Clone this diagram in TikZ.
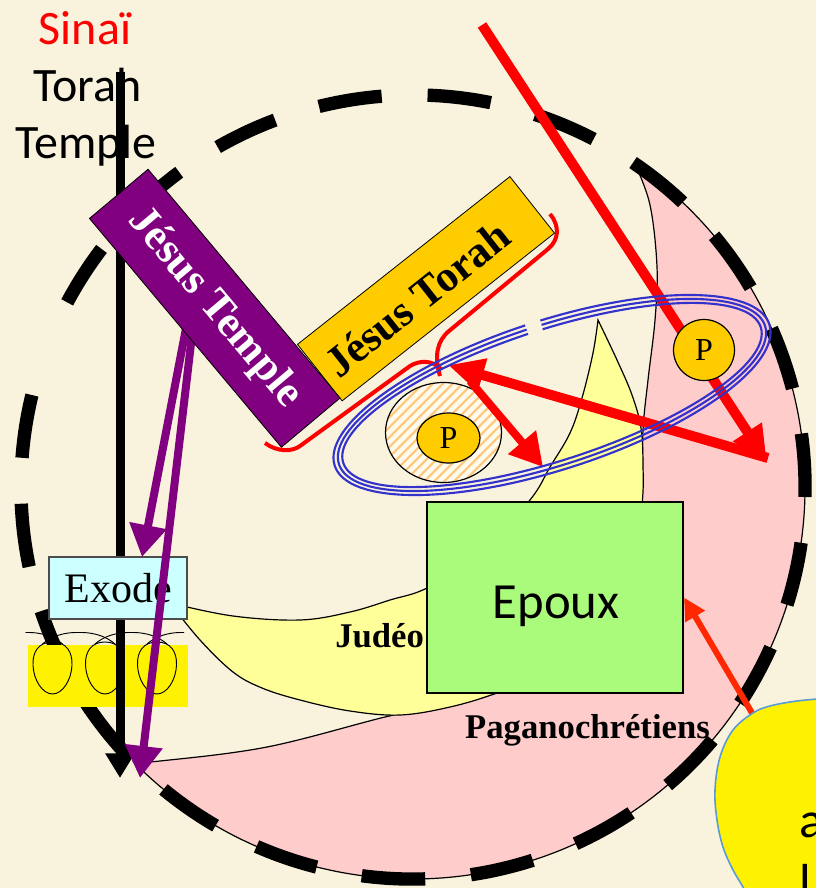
\documentclass[tikz,border=0pt]{standalone}
\usepackage{fontspec}
\setmainfont{Liberation Serif}
\newfontfamily\carl{Carlito}
\usetikzlibrary{arrows.meta,shapes.geometric,calc}
\definecolor{bgc}{RGB}{249,243,222}
\definecolor{pinkc}{RGB}{255,204,204}
\definecolor{yellc}{RGB}{255,255,153}
\definecolor{greenc}{RGB}{170,250,123}
\definecolor{goldc}{RGB}{255,204,0}
\definecolor{purplec}{RGB}{128,0,128}
\definecolor{cyanc}{RGB}{204,255,255}
\definecolor{bluec}{RGB}{51,51,204}
\definecolor{stripec}{RGB}{255,200,120}
\definecolor{hatchbg}{RGB}{255,250,238}
\definecolor{orangered}{RGB}{255,40,0}
\definecolor{calloutb}{RGB}{91,155,213}
\tikzset{
  thinblack/.style={draw=black, line width=0.9pt},
  dashcirc/.style={draw=black, line width=10pt, dash pattern=on 47.7pt off 34.45pt},
  purplearrow/.style={draw=purplec, line width=6pt, -{Triangle[length=24pt,width=27pt]}},
  blackarrow/.style={draw=black, line width=6.75pt, -{Triangle[length=18.5pt,width=21pt]}},
  redthick/.style={draw=red, line width=7.5pt, -{Triangle[length=27pt,width=24pt]}},
  redmid/.style={draw=red, line width=6pt, -{Triangle[length=24.4pt,width=26pt]}},
  redthin/.style={draw=red, line width=3pt},
  blueline/.style={draw=bluec, line width=1.6pt},
  eggstyle/.style={draw=black, line width=0.7pt},
  bigsans/.style={font=\carl\fontsize{36pt}{42pt}\selectfont, inner sep=0},
  boldlabel/.style={font=\bfseries\fontsize{26pt}{30pt}\selectfont, inner sep=0},
  pfont/.style={font=\fontsize{24pt}{28pt}\selectfont},
  jbox/.style={draw=black, line width=0.6pt, inner sep=0, font=\bfseries\fontsize{32.6pt}{36pt}\selectfont}
}
\begin{document}
\begin{tikzpicture}[x=0.75pt,y=-0.75pt]
\useasboundingbox (0,0) rectangle (816,888);
\fill[bgc] (0,0) rectangle (816,888);

% pink crescent (Paganochretiens)
\coordinate (ctr) at (413,487);
\path[fill=pinkc, thinblack] ($(ctr)+(-55.5:392)$) arc[start angle=-55.5, end angle=135.5, radius=392]
  -- plot[smooth, tension=0.6] coordinates {(133.4,761.7) (160,761) (267,747) (385,717) (450,703) (497,688) (545,672) (592,637) (628,580) (641,500) (643,430) (648,380) (655,320) (657,267) (650,205) (635,164)} -- cycle;

% yellow crescent (Judeo)
\path[fill=yellc, thinblack] plot[smooth, tension=0.6] coordinates {(598,320) (617,360) (632,395) (641,428) (643,465) (642,505) (632,575) (600,630) (555,670) (497,693) (450,707) (400,715) (350,711) (300,700) (262,688) (233,672) (200,640) (170,603)}
  -- plot[smooth, tension=0.6] coordinates {(170,603) (233,616) (300,620) (350,612) (390,600) (427,588) (480,555) (530,500) (550,467) (570,433) (582,398) (593,353) (598,320)} -- cycle;

\node[boldlabel, anchor=base west] (judeo) at (335,647) {Judéo};

% Epoux
\node[draw=black, line width=1.5pt, fill=greenc, minimum width=192pt, minimum height=143.25pt, inner sep=0] (epoux) at (555,597.5) {};
\node[font=\carl\fontsize{38pt}{44pt}\selectfont, anchor=base, inner sep=0] (epouxtxt) at (556,618) {Epoux};
\node[boldlabel, anchor=base] (pagano) at (587.5,738) {Paganochrétiens};

% dashed circle
\draw[dashcirc] ($(ctr)+(208.1:392)$) arc[start angle=208.1, end angle=559.0, radius=392];
\draw[draw=black, line width=10pt] ($(ctr)+(145.3:392)$) arc[start angle=145.3, end angle=152.5, radius=392];

% yellow rectangle with loops
\fill[yellow] (28,645) rectangle (188,707);
\foreach \x in {52.5,105,157}{
  \draw[eggstyle] (\x,642) .. controls (\x+14,642) and (\x+20,652) .. (\x+19.5,665) .. controls (\x+19,680) and (\x+10,694) .. (\x,694) .. controls (\x-10,694) and (\x-19,680) .. (\x-19.5,665) .. controls (\x-20,652) and (\x-14,642) .. cycle;
  \draw[eggstyle] (\x+10,644) .. controls (\x+2,637) and (\x-10,632) .. (\x-27,632.5);
  \draw[eggstyle] (\x-10,644) .. controls (\x-2,637) and (\x+10,632) .. (\x+27,632.5);
}

% Sinai vertical line
\coordinate (linetop) at (120,72);
\coordinate (linebot) at (120,778);
\draw[blackarrow] (linetop) -- (linebot);

% Exode
\node[draw=black!70, line width=0.8pt, fill=cyanc, minimum width=103.5pt, minimum height=46.5pt, font=\fontsize{31.5pt}{36pt}\selectfont] (exode) at (118,588) {Exode};

% purple arrows
\coordinate (pa1s) at (188,318);
\coordinate (pa1e) at (142,557);
\coordinate (pa2s) at (194,318);
\coordinate (pa2e) at (140,778);
\draw[purplearrow] (pa1s) -- (pa1e);
\draw[purplearrow] (pa2s) -- (pa2e);

% red outline round Jesus Torah
\draw[redthin] (550,214) .. controls (560,226) and (559,240) .. (548,249) -- (449,331) .. controls (437,341) and (434,356) .. (440,376);
\draw[redthin] (441,369) .. controls (432,360) and (420,360) .. (410,366) -- (300,446) .. controls (292,452) and (277,452) .. (265,443);

% Jesus boxes
\node[jbox, fill=goldc, minimum width=203pt, minimum height=54pt, rotate=38.3] (jtorah) at (426,288.75) {};
\node[font=\bfseries\fontsize{32.6pt}{36pt}\selectfont, rotate=38.3, inner sep=0] (jtorahtxt) at (417,299) {Jésus Torah};
\node[jbox, fill=purplec, text=white, minimum width=224pt, minimum height=57.4pt, rotate=-50] (jtemple) at (214.75,308.25) {Jésus Temple};

% hatched circle with P
\node[ellipse, thinblack, fill=hatchbg, minimum width=87pt, minimum height=75pt, inner sep=0,
  path picture={\foreach \k in {-12,...,12} \draw[stripec, line width=1.6pt] ([xshift={7.425pt*\k}]path picture bounding box.center) ++(-70,70) -- ++(140,-140);}] (hatch) at (443.5,432.5) {};
\node[ellipse, thinblack, fill=goldc, minimum width=47.25pt, minimum height=37.5pt, inner sep=0, pfont] (pin) at (448.5,438) {P};

% red arrows
\coordinate (r1s) at (768,458);
\coordinate (r1e) at (448,365);
\coordinate (r2s) at (470,381);
\coordinate (r2e) at (543,467);
\coordinate (r3s) at (482,25);
\coordinate (r3e) at (767,462);
\draw[redthick] (r1s) -- (r1e);
\draw[redmid] (r2s) -- (r2e);
\draw[redthick] (r3s) -- (r3e);

% blue triple ellipse
\begin{scope}[shift={(552,395)}, rotate=18]
\foreach \d in {-4.5,0,4.5}
  \draw[blueline] (-87:{224+\d} and {70+\d}) arc[start angle=-87, end angle=269, x radius={224+\d}, y radius={70+\d}];
\end{scope}

% gold P
\node[circle, thinblack, fill=goldc, minimum size=45.75pt, inner sep=0, pfont] (pout) at (704,350) {P};

% callout and arrow to Epoux
\coordinate (r4s) at (752,713);
\draw[draw=orangered, line width=4.5pt, -{Triangle[length=16.5pt,width=16pt]}] (r4s) -- (epoux.east);
\path[fill=yellow, draw=calloutb, line width=1.2pt] (900,699) -- plot[smooth, tension=0.6] coordinates {(830,698) (797,701) (770,706) (753,713) (733,730) (720,757) (715,790) (717,820) (723,847) (733,870) (743,887) (755,910)} -- (900,910) -- cycle;
\node[font=\carl\fontsize{38pt}{44pt}\selectfont, anchor=base west, inner sep=0] (calla) at (799,837) {a};
\node[font=\carl\fontsize{38pt}{44pt}\selectfont, anchor=base west, inner sep=0] (calll) at (799,899) {l};

% top labels
\node[bigsans, text=red, anchor=base] (sinai) at (85,45) {Sinaï};
\node[bigsans, anchor=base] (torah) at (87.5,102) {Torah};
\node[bigsans, anchor=base] (temple) at (86,158) {Temple};
\end{tikzpicture}
\end{document}
